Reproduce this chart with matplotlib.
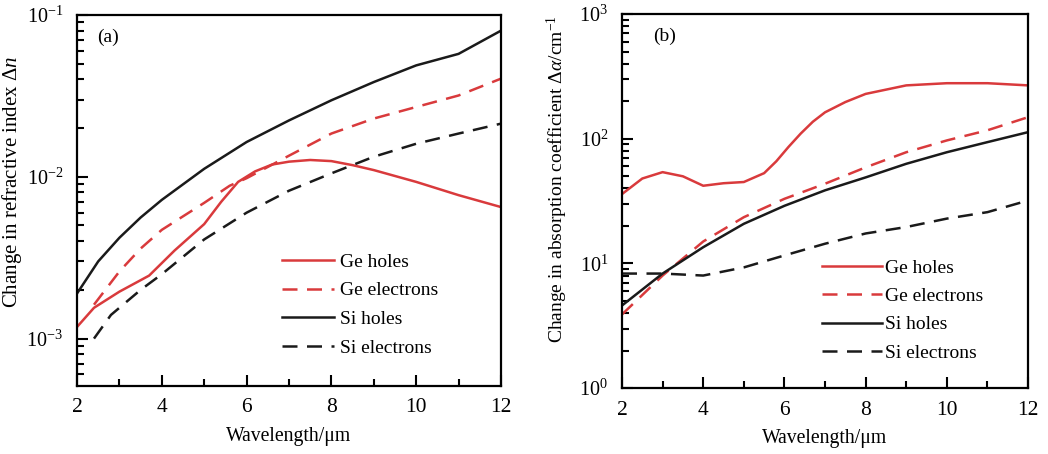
import matplotlib
matplotlib.use("Agg")
import matplotlib.pyplot as plt
from matplotlib.ticker import LogLocator, MultipleLocator, NullFormatter

plt.rcParams["font.family"] = ["Liberation Serif", "DejaVu Serif"]
plt.rcParams["mathtext.fontset"] = "custom"
plt.rcParams["mathtext.rm"] = "Liberation Serif"
plt.rcParams["mathtext.it"] = "Liberation Serif:italic"

RED = "#d93a3c"
BLACK = "#1a1a1a"

# panel (a): change in refractive index
wl_a_sh = [2, 2.5, 3, 3.5, 4, 5, 6, 7, 8, 9, 10, 11, 12]
si_holes_a = [1.9e-3, 3.0e-3, 4.2e-3, 5.6e-3, 7.2e-3, 0.0112, 0.0164, 0.0223, 0.0297, 0.0385,
              0.0488, 0.0575, 0.080]
wl_a_ge = [2.4, 3, 3.5, 4, 5, 5.6, 6, 7, 8, 9, 10, 11, 12]
ge_elec_a = [1.62e-3, 2.6e-3, 3.6e-3, 4.7e-3, 6.9e-3, 8.8e-3, 9.8e-3, 0.0135, 0.0185, 0.0229,
             0.027, 0.0318, 0.0404]
wl_a_se = [2.4, 2.8, 3.5, 4, 5, 6, 7, 8, 9, 10, 11, 12]
si_elec_a = [1.0e-3, 1.4e-3, 2.0e-3, 2.5e-3, 4.1e-3, 6.0e-3, 8.2e-3, 0.0105, 0.0133, 0.016,
             0.0185, 0.0213]
wl_a_gh = [2, 2.4, 3, 3.7, 4.3, 5, 5.4, 5.8, 6.2, 6.6, 7, 7.5, 8, 8.5, 9, 10, 11, 12]
ge_holes_a = [1.18e-3, 1.55e-3, 1.95e-3, 2.45e-3, 3.5e-3, 5.1e-3, 7.0e-3, 9.3e-3, 0.0108,
              0.0119, 0.0124, 0.0127, 0.0125, 0.0118, 0.011, 9.3e-3, 7.7e-3, 6.5e-3]

# panel (b): change in absorption coefficient
wl_b = [2, 3, 4, 5, 6, 7, 8, 9, 10, 11, 12]
ge_elec_b = [3.9, 8.0, 15.0, 23.5, 33, 43.6, 59, 78, 97, 117, 149]
si_holes_b = [4.6, 8.3, 13.5, 20.8, 29, 38.6, 49, 63, 78, 94, 113]
si_elec_b = [8.3, 8.3, 8.0, 9.3, 11.6, 14.4, 17.4, 19.6, 22.9, 25.8, 32]
wl_b_gh = [2, 2.5, 3, 3.5, 4, 4.5, 5, 5.5, 5.8, 6.1, 6.4, 6.7, 7, 7.5, 8, 9, 10, 11, 12]
ge_holes_b = [36, 48, 54, 50, 42, 44, 45, 53, 66, 86, 110, 137, 163, 197, 229, 268, 279, 279, 268]

LABELS = ["Ge holes", "Ge electrons", "Si holes", "Si electrons"]
LW = 1.8
DASH = (6, 3.8)


def style_axis(ax):
    ax.set_yscale("log")
    ax.set_xlim(2, 12)
    ax.xaxis.set_major_locator(MultipleLocator(2))
    ax.xaxis.set_minor_locator(MultipleLocator(1))
    ax.yaxis.set_major_locator(LogLocator(base=10, numticks=10))
    ax.yaxis.set_minor_locator(LogLocator(base=10, subs=range(2, 10), numticks=20))
    ax.yaxis.set_minor_formatter(NullFormatter())
    ax.tick_params(which="both", direction="in", width=1.5, top=False, right=False)
    ax.tick_params(which="major", length=8)
    ax.tick_params(which="minor", length=5)
    ax.tick_params(axis="x", labelsize=15.5, pad=9)
    ax.tick_params(axis="y", labelsize=14.5, pad=10)
    for s in ax.spines.values():
        s.set_linewidth(1.6)
    ax.set_xlabel("Wavelength/\u03bcm", fontsize=14.2, labelpad=7)


fig = plt.figure(figsize=(10.48, 4.54), dpi=100)
ax1 = fig.add_axes([0.0735, 0.150, 0.4045, 0.817])
ax2 = fig.add_axes([0.5935, 0.145, 0.3875, 0.824])

ax1.plot(wl_a_gh, ge_holes_a, color=RED, lw=LW)
ax1.plot(wl_a_ge, ge_elec_a, color=RED, lw=LW, dashes=DASH)
ax1.plot(wl_a_sh, si_holes_a, color=BLACK, lw=LW)
ax1.plot(wl_a_se, si_elec_a, color=BLACK, lw=LW, dashes=DASH)
style_axis(ax1)
ax1.set_ylim(5.1e-4, 1e-1)
ax1.set_ylabel("Change in refractive index \u0394$\\it{n}$", fontsize=15)
ax1.yaxis.set_label_coords(-0.126, 0.55)
ax1.text(0.047, 0.94, "(a)", transform=ax1.transAxes, fontsize=14, va="center")
ax1.legend(LABELS, loc="upper left", bbox_to_anchor=(0.483, 0.358), frameon=False,
           fontsize=14, handlelength=2.7, handletextpad=0.3, labelspacing=0.57,
           borderpad=0, borderaxespad=0)

ax2.plot(wl_b_gh, ge_holes_b, color=RED, lw=LW)
ax2.plot(wl_b, ge_elec_b, color=RED, lw=LW, dashes=DASH)
ax2.plot(wl_b, si_holes_b, color=BLACK, lw=LW)
ax2.plot(wl_b, si_elec_b, color=BLACK, lw=LW, dashes=DASH)
style_axis(ax2)
ax2.set_ylim(1, 1000)
ax2.set_ylabel("Change in absorption coefficient \u0394$\\it{\\alpha}$/cm$^{-1}$",
               fontsize=14)
ax2.yaxis.set_label_coords(-0.128, 0.56)
ax2.text(0.076, 0.94, "(b)", transform=ax2.transAxes, fontsize=14, va="center")
ax2.legend(LABELS, loc="upper left", bbox_to_anchor=(0.493, 0.345), frameon=False,
           fontsize=14, handlelength=3.1, handletextpad=0.12, labelspacing=0.55,
           borderpad=0, borderaxespad=0)

fig.savefig("out.png", dpi=100)
